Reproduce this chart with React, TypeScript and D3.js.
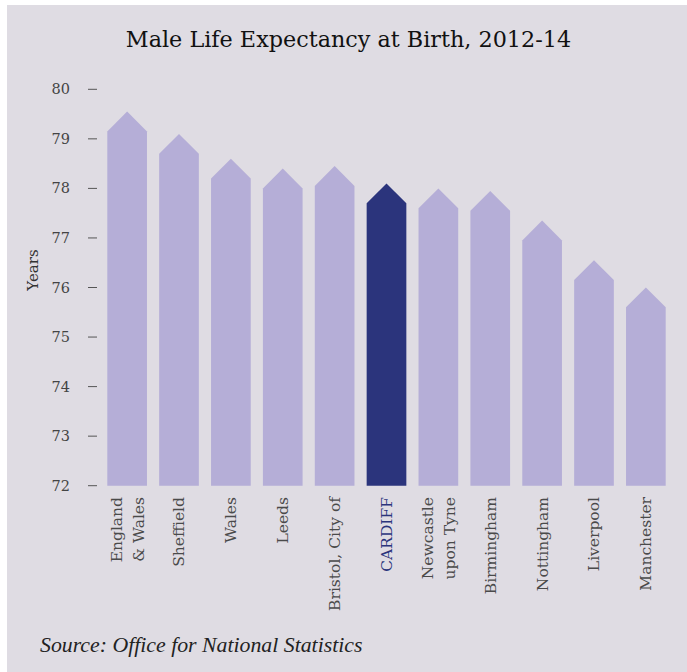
import React from "react";
import * as d3 from "d3";

const categories: string[][] = [
  ["England", "& Wales"],
  ["Sheffield"],
  ["Wales"],
  ["Leeds"],
  ["Bristol, City of"],
  ["CARDIFF"],
  ["Newcastle", "upon Tyne"],
  ["Birmingham"],
  ["Nottingham"],
  ["Liverpool"],
  ["Manchester"],
];
const values: number[] = [79.55, 79.1, 78.6, 78.4, 78.45, 78.1, 78.0, 77.95, 77.35, 76.55, 76.0];
const highlight = "CARDIFF";
const yTicks: number[] = [72, 73, 74, 75, 76, 77, 78, 79, 80];
const title = "Male Life Expectancy at Birth, 2012-14";
const yLabel = "Years";
const source = "Source: Office for National Statistics";

const W = 687;
const H = 672;
const slab = "'DejaVu Serif', serif";

export default function App() {
  const keys = categories.map((c) => c.join(" "));
  const x = d3
    .scaleBand<string>()
    .domain(keys)
    .range([101.2, 671.8])
    .paddingInner(0.235)
    .paddingOuter(0.1175);
  const y = d3.scaleLinear().domain([72, 80]).range([485.7, 89.3]);
  const bw = x.bandwidth();
  const head = bw / 2;

  const arrowPath = (k: string, v: number) => {
    const x0 = x(k)!;
    const x1 = x0 + bw;
    const peak = y(v);
    const shoulder = peak + head;
    const base = y(72);
    const p = d3.path();
    p.moveTo(x0, base);
    p.lineTo(x0, shoulder);
    p.lineTo(x0 + bw / 2, peak);
    p.lineTo(x1, shoulder);
    p.lineTo(x1, base);
    p.closePath();
    return p.toString();
  };

  return (
    <svg
      width={W}
      height={H}
      style={{ position: "absolute", left: 0, top: 0 }}
    >
      <rect x={7} y={5} width={W - 7} height={H - 5} fill="#dfdce3" />
      <text
        x={348.5}
        y={47}
        textAnchor="middle"
        fontFamily={slab}
        fontSize={22.3}
        fill="#111"
      >
        {title}
      </text>
      {yTicks.map((t) => (
        <g key={t}>
          <line x1={88} x2={97} y1={y(t)} y2={y(t)} stroke="#555" strokeWidth={1} />
          <text
            x={70}
            y={y(t)}
            dy="0.35em"
            textAnchor="end"
            fontFamily={slab}
            fontSize={14.5}
            fill="#444"
          >
            {t}
          </text>
        </g>
      ))}
      <text
        transform={`translate(33,${270}) rotate(-90)`}
        textAnchor="middle"
        dy="0.35em"
        fontFamily={slab}
        fontSize={15}
        fill="#333"
      >
        {yLabel}
      </text>
      {keys.map((k, i) => (
        <path
          key={k}
          d={arrowPath(k, values[i])}
          fill={k === highlight ? "#2b347c" : "#b5aed7"}
        />
      ))}
      {categories.map((lines, i) => {
        const k = keys[i];
        const cx = x(k)! + bw / 2;
        const n = lines.length;
        return lines.map((ln, j) => {
          const off = (j - (n - 1) / 2) * 22;
          return (
            <text
              key={k + j}
              transform={`translate(${cx + off},497) rotate(-90)`}
              textAnchor="end"
              dy="0.35em"
              fontFamily={slab}
              fontSize={15.5}
              fill={k === highlight ? "#2b347c" : "#4a4a4a"}
            >
              {ln}
            </text>
          );
        });
      })}
      <text
        x={40}
        y={652}
        fontFamily="'Liberation Serif', serif"
        fontStyle="italic"
        fontSize={21.8}
        fill="#222"
      >
        {source}
      </text>
    </svg>
  );
}
